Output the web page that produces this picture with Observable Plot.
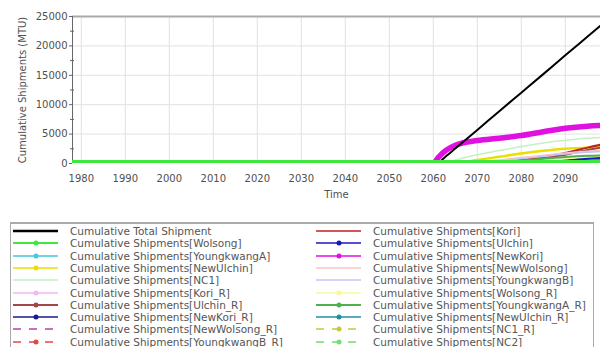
<!DOCTYPE html>
<html>
<head>
<meta charset="utf-8">
<script src="https://cdn.jsdelivr.net/npm/d3@7"></script>
<script src="https://cdn.jsdelivr.net/npm/@observablehq/plot@0.6"></script>
<style>
  body { margin: 0; background: #fff; width: 600px; height: 347px; overflow: hidden; position: relative; font-family: "DejaVu Sans", sans-serif; }
  #legend { position: absolute; left: 10px; top: 222px; width: 584px; height: 140px; border: 1px solid #aaa; border-top: 2px solid #aaa; box-sizing: border-box; }
  .row { position: absolute; height: 12px; font-size: 10.5px; line-height: 12px; color: #555; white-space: nowrap; }
  .row svg { position: absolute; top: 1px; }
  .row span { position: absolute; }
</style>
</head>
<body>
<div id="chart"></div>
<div id="legend"></div>
<script>
// ---- data ----
const years = [1978, 2060, 2061, 2062, 2063, 2065, 2070, 2075, 2080, 2085, 2090, 2095, 2100];
const xTicks = [1980, 1990, 2000, 2010, 2020, 2030, 2040, 2050, 2060, 2070, 2080, 2090];
const yTicks = [0, 5000, 10000, 15000, 20000, 25000];
const yMinorTicks = [2500, 7500, 12500, 17500, 22500];

const total        = [0, 0, 0, 650, 1300, 2550, 5700, 8900, 12050, 15200, 18400, 21550, 24700];
const wolsong      = [0, 0, 0, 0, 0, 0, 0, 0, 0, 0, 0, 0, 0];
const youngkwangA  = [0, 0, 0, 0, 0, 0, 0, 0, 100, 250, 450, 650, 800];
const newUlchin    = [0, 0, 0, 0, 0, 100, 600, 1150, 1700, 2150, 2500, 2700, 2800];
const nc1          = [0, 0, 0, 0, 200, 600, 1500, 2200, 2900, 3500, 3950, 4300, 4500];
const koriR        = [0, 0, 0, 0, 0, 0, 0, 100, 300, 500, 800, 1100, 1300];
const ulchinR      = [0, 0, 0, 0, 0, 0, 0, 50, 400, 900, 1500, 2300, 2900];
const newKoriR     = [0, 0, 0, 0, 0, 0, 0, 0, 0, 100, 400, 800, 1100];
const newWolsongR  = [0, 0, 0, 0, 0, 0, 0, 0, 0, 50, 200, 500, 700];
const youngkwangBR = [0, 0, 0, 0, 0, 0, 0, 0, 0, 0, 150, 400, 600];
const kori         = [0, 0, 0, 0, 0, 0, 0, 150, 600, 1100, 1800, 2700, 3500];
const ulchin       = [0, 0, 0, 0, 0, 0, 0, 0, 0, 200, 500, 900, 1200];
const newKori      = [0, 0, 900, 1700, 2300, 3100, 3900, 4300, 4750, 5400, 6000, 6350, 6500];
const newWolsong   = [0, 0, 0, 0, 0, 0, 200, 600, 1000, 1400, 1800, 2100, 2300];
const youngkwangB  = [0, 0, 0, 0, 0, 0, 100, 400, 800, 1200, 1600, 1900, 2100];
const wolsongR     = [0, 0, 0, 0, 0, 0, 0, 0, 200, 500, 800, 1100, 1300];
const youngkwangAR = [0, 0, 0, 0, 0, 0, 0, 200, 500, 800, 1100, 1300, 1400];
const newUlchinR   = [0, 0, 0, 0, 0, 0, 0, 0, 0, 100, 300, 500, 700];
const nc1R         = [0, 0, 0, 0, 0, 0, 0, 0, 0, 0, 100, 300, 500];
const nc2          = [0, 0, 0, 0, 0, 0, 0, 0, 0, 0, 100, 200, 400];

const leftNames = ["Cumulative Total Shipment", "Cumulative Shipments[Wolsong]", "Cumulative Shipments[YoungkwangA]",
  "Cumulative Shipments[NewUlchin]", "Cumulative Shipments[NC1]", "Cumulative Shipments[Kori_R]",
  "Cumulative Shipments[Ulchin_R]", "Cumulative Shipments[NewKori_R]", "Cumulative Shipments[NewWolsong_R]",
  "Cumulative Shipments[YoungkwangB_R]"];
const rightNames = ["Cumulative Shipments[Kori]", "Cumulative Shipments[Ulchin]", "Cumulative Shipments[NewKori]",
  "Cumulative Shipments[NewWolsong]", "Cumulative Shipments[YoungkwangB]", "Cumulative Shipments[Wolsong_R]",
  "Cumulative Shipments[YoungkwangA_R]", "Cumulative Shipments[NewUlchin_R]", "Cumulative Shipments[NC1_R]",
  "Cumulative Shipments[NC2]"];

// styles (legend order)
const leftStyles = [
  {values: total, color: "#000000", w: 2, legendW: 2.5},
  {values: wolsong, color: "#3ee63e", w: 7, legendW: 2, dot: true},
  {values: youngkwangA, color: "#44c8dd", w: 1.5, legendW: 1.5, dot: true},
  {values: newUlchin, color: "#e8e000", w: 2.5, legendW: 1.5, dot: true},
  {values: nc1, color: "#c4f0c4", w: 1.5, legendW: 1.5},
  {values: koriR, color: "#f0b8f0", w: 1.5, legendW: 1.5, dot: true},
  {values: ulchinR, color: "#a04848", w: 2, legendW: 2, dot: true},
  {values: newKoriR, color: "#1a1a8c", w: 2, legendW: 1.5, dot: true},
  {values: newWolsongR, color: "#b040b0", w: 1.5, legendW: 1.5, dash: "6,6"},
  {values: youngkwangBR, color: "#e04848", w: 1.5, legendW: 1.5, dash: "6,6", dot: true}
];
const rightStyles = [
  {values: kori, color: "#c02020", w: 2, legendW: 1.5},
  {values: ulchin, color: "#1818c0", w: 2.5, legendW: 1.5, dot: true},
  {values: newKori, color: "#e010e0", w: 5.5, legendW: 1.5, dot: true},
  {values: newWolsong, color: "#f8c4c4", w: 1.5, legendW: 1.5},
  {values: youngkwangB, color: "#c4c4f8", w: 1.5, legendW: 1.5},
  {values: wolsongR, color: "#f8f8a0", w: 1.5, legendW: 1.5, dot: true},
  {values: youngkwangAR, color: "#50b050", w: 2, legendW: 2, dot: true},
  {values: newUlchinR, color: "#2090a0", w: 1.5, legendW: 1.5, dot: true},
  {values: nc1R, color: "#c8c840", w: 1.5, legendW: 1.5, dash: "6,6", dot: true},
  {values: nc2, color: "#70e070", w: 1.5, legendW: 1.5, dash: "6,6", dot: true}
];

const series = [...leftNames.map((n, i) => ({name: n, ...leftStyles[i]})),
                ...rightNames.map((n, i) => ({name: n, ...rightStyles[i]}))];

// drawing order: thin lines first, then heavy ones, green baseline last
const heavy = ["Cumulative Shipments[NewKori]", "Cumulative Total Shipment", "Cumulative Shipments[Wolsong]"];
const ordered = [...series.filter(s => !heavy.includes(s.name)), ...heavy.map(h => series.find(s => s.name === h))];

const lineMarks = ordered.map(s =>
  Plot.line(years.map((y, i) => ({year: y, value: s.values[i]})), {
    x: "year", y: "value", stroke: s.color, strokeWidth: s.w,
    strokeDasharray: s.dash, clip: true, curve: "monotone-x"
  })
);

const chart = Plot.plot({
  width: 600,
  height: 215,
  marginLeft: 72,
  marginRight: 0,
  marginTop: 16,
  marginBottom: 52,
  style: {fontFamily: "DejaVu Sans, sans-serif", fontSize: "10px", color: "#505050", background: "#fff"},
  x: {domain: [1978, 2098]},
  y: {domain: [0, 25000]},
  marks: [
    Plot.gridX(xTicks, {stroke: "#e2e2e2", strokeOpacity: 1}),
    Plot.gridY(yTicks.slice(1, -1), {stroke: "#e2e2e2", strokeOpacity: 1}),
    Plot.ruleY([25000], {stroke: "#aaa", strokeWidth: 2}),
    Plot.ruleX([1978], {stroke: "#666"}),
    Plot.axisY(yTicks, {tickSize: 3, tickPadding: 2, tickFormat: d3.format("d"),
      label: "Cumulative Shipments (MTU)", labelAnchor: "center", labelArrow: "none", labelOffset: 54, stroke: "#666"}),
    Plot.axisY(yMinorTicks, {tickSize: 4, dx: 2, text: null, label: null, stroke: "#666"}),
    Plot.axisX(xTicks, {tickSize: 0, tickPadding: 11, tickFormat: d3.format("d"),
      label: "Time", labelAnchor: "center", labelArrow: "none", labelOffset: 34}),
    ...lineMarks
  ]
});
document.getElementById("chart").appendChild(chart);

// ---- legend ----
const legend = document.getElementById("legend");
const rowStep = 12.3;
function addRow(s, col, i) {
  const row = document.createElement("div");
  row.className = "row";
  row.style.left = (col === 0 ? 2 : 305) + "px";
  row.style.top = (1 + i * rowStep) + "px";
  const ns = "http://www.w3.org/2000/svg";
  const svg = document.createElementNS(ns, "svg");
  svg.setAttribute("width", 46); svg.setAttribute("height", 10);
  const ln = document.createElementNS(ns, "line");
  ln.setAttribute("x1", 0); ln.setAttribute("x2", 45); ln.setAttribute("y1", 5); ln.setAttribute("y2", 5);
  ln.setAttribute("stroke", s.color); ln.setAttribute("stroke-width", s.legendW);
  if (s.dash) ln.setAttribute("stroke-dasharray", "8,8");
  svg.appendChild(ln);
  if (s.dot) {
    const c = document.createElementNS(ns, "circle");
    c.setAttribute("cx", 23); c.setAttribute("cy", 5); c.setAttribute("r", 2.5);
    c.setAttribute("fill", s.color);
    svg.appendChild(c);
  }
  row.appendChild(svg);
  const t = document.createElement("span");
  t.style.left = "57px"; t.style.top = "0px";
  t.textContent = s.name;
  row.appendChild(t);
  legend.appendChild(row);
}
leftNames.forEach((n, i) => addRow({name: n, ...leftStyles[i]}, 0, i));
rightNames.forEach((n, i) => addRow({name: n, ...rightStyles[i]}, 1, i));
</script>
</body>
</html>
